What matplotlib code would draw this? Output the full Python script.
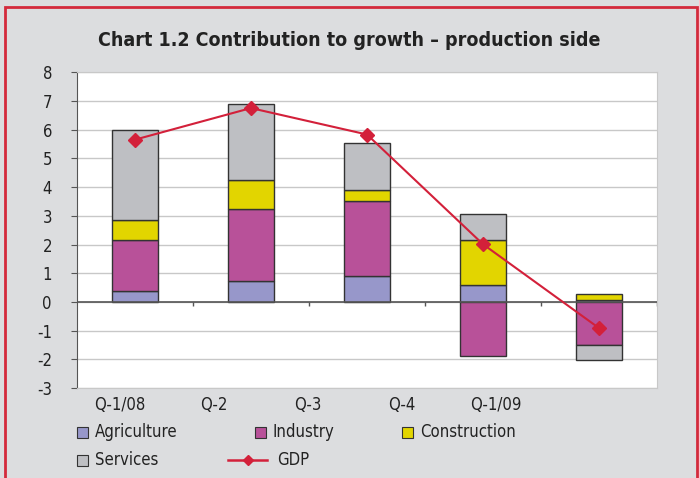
import numpy as np
import matplotlib.pyplot as plt
from matplotlib.patches import Rectangle
from matplotlib.lines import Line2D

# categories and contributions (percentage points)
quarters = ["Q-1/08", "Q-2", "Q-3", "Q-4", "Q-1/09"]
agriculture = [0.38, 0.72, 0.92, 0.59, 0.08]
industry = [1.77, 2.53, 2.60, -1.89, -1.49]
construction = [0.72, 0.99, 0.38, 1.57, 0.19]
services = [3.12, 2.66, 1.63, 0.90, -0.52]
gdp = [5.65, 6.75, 5.83, 2.01, -0.91]

col_agri = "#9797CA"
col_ind = "#B85199"
col_con = "#E2D500"
col_serv = "#BEBFC3"
col_gdp = "#D3203A"
bg = "#DCDDDF"
edge = "#333333"

plt.rcParams['font.family'] = ['DejaVu Sans']
plt.rcParams['font.stretch'] = 'condensed'
plt.rcParams['axes.unicode_minus'] = False

fig = plt.figure(figsize=(6.99, 4.78), dpi=100, facecolor=bg)
ax = fig.add_axes([0.110, 0.188, 0.830, 0.661])
ax.set_facecolor("white")

x = np.arange(len(quarters))
w = 0.39

# stack positives upward and negatives downward
pos_base = np.zeros(len(x))
neg_base = np.zeros(len(x))
for vals, c in [(agriculture, col_agri), (industry, col_ind),
                (construction, col_con), (services, col_serv)]:
    v = np.array(vals)
    bottom = np.where(v >= 0, pos_base, neg_base)
    ax.bar(x, v, w, bottom=bottom, color=c, edgecolor=edge, linewidth=1.0, zorder=3)
    pos_base += np.where(v >= 0, v, 0)
    neg_base += np.where(v < 0, v, 0)

ax.plot(x, gdp, color=col_gdp, lw=1.5, marker="D", markersize=7, zorder=5)

ax.set_xlim(-0.5, 4.5)
ax.set_ylim(-3, 8)
ax.set_yticks(range(-3, 9))
ax.yaxis.grid(True, color="#C8C8C8", lw=1, zorder=0)
ax.axhline(0, color="#555555", lw=1.2, zorder=4)
ax.vlines(np.arange(0.5, 5, 1), -0.15, 0, color="#555555", lw=1, zorder=4)

# category labels sit below the frame, as in the original
ax.set_xticks(np.arange(len(quarters)) * 0.81 - 0.13, quarters)
ax.tick_params(axis="x", length=0, pad=6, labelsize=12, colors="#222222")
ax.tick_params(axis="y", length=4, pad=14, labelsize=12, colors="#555555",
               labelcolor="#222222")

for s in ["top", "right", "bottom"]:
    ax.spines[s].set_color("#C8C8C8")
ax.spines["left"].set_color("#555555")

fig.text(0.5, 0.916, "Chart 1.2 Contribution to growth \u2013 production side",
         ha="center", va="center", fontsize=14, fontweight="bold", color="#222222")

# legend drawn by hand to keep Excel-like layout
def sq(xp, yp, c):
    fig.add_artist(Rectangle((xp / 699, 1 - (yp + 6) / 478), 11 / 699, 11 / 478,
                             facecolor=c, edgecolor=edge, lw=0.8, transform=fig.transFigure))

items = [("Agriculture", col_agri, 77, 432), ("Industry", col_ind, 255, 432),
         ("Construction", col_con, 402, 432), ("Services", col_serv, 77, 460)]
for lab, c, xp, yp in items:
    sq(xp, yp, c)
    fig.text((xp + 18) / 699, 1 - yp / 478, lab, va="center", fontsize=12, color="#222222")

fig.add_artist(Line2D([228 / 699, 267 / 699], [1 - 460 / 478] * 2, color=col_gdp, lw=1.8,
                      transform=fig.transFigure))
fig.add_artist(Line2D([247.5 / 699], [1 - 460 / 478], color=col_gdp, marker="D", markersize=5,
                      transform=fig.transFigure))
fig.text(277 / 699, 1 - 460 / 478, "GDP", va="center", fontsize=12, color="#222222")

# red outer frame
fig.add_artist(Rectangle((5 / 699, -0.05), 692 / 699, 1 - 7 / 478 + 0.05, fill=False,
                         edgecolor="#D42A3C", lw=2, transform=fig.transFigure))

fig.savefig("out.png", dpi=100, facecolor=bg)
